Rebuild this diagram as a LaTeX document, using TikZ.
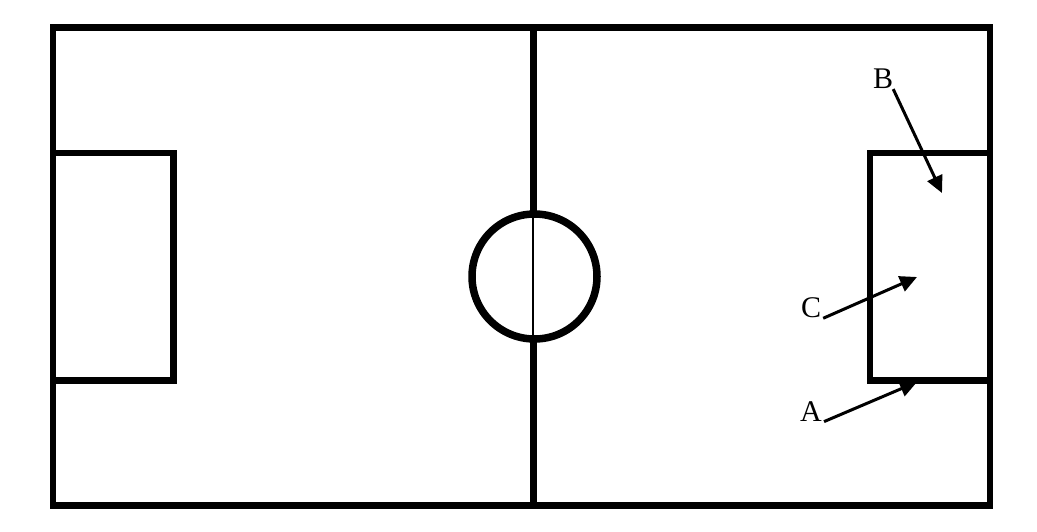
\documentclass[tikz,border=0pt]{standalone}
\usepackage{fontspec}
\setmainfont{Liberation Serif}
\usetikzlibrary{arrows.meta}
\begin{document}
\begin{tikzpicture}[x=1pt,y=-1pt,
  thickline/.style={line width=6.5pt,line join=miter,line cap=rect},
  thinline/.style={line width=2pt},
  lbl/.style={inner sep=0pt,font=\fontsize{30}{34}\selectfont},
  pointer/.style={line width=3pt,-{Triangle[length=17pt,width=16pt]}}]
\useasboundingbox (0,0) rectangle (1037,531);
% pitch
\draw[thickline] (53,27.5) rectangle (990,505.5);
\draw[thickline] (53,153) rectangle (173.5,380.5);
\draw[thickline] (870,153) rectangle (990,380.5);
\draw[thickline,line cap=butt] (533.5,27.5) -- (533.5,215);
\draw[thickline,line cap=butt] (533.5,338) -- (533.5,505.5);
\draw[thinline] (532.5,215) -- (532.5,338);
\draw[line width=7.5pt] (534.5,276.5) circle (62.5);
% labels
\node[lbl] (B) at (883,79) {B};
\node[lbl] (C) at (811,308) {C};
\node[lbl] (A) at (811,411.5) {A};
\coordinate (tipB) at (942,193);
\coordinate (tipC) at (917,277);
\coordinate (tipA) at (917,382);
\draw[pointer] (B.south east) -- (tipB);
\draw[pointer] (C.south east) ++(2,0) -- (tipC);
\draw[pointer] (A.south east) ++(2,0) -- (tipA);
\end{tikzpicture}
\end{document}
